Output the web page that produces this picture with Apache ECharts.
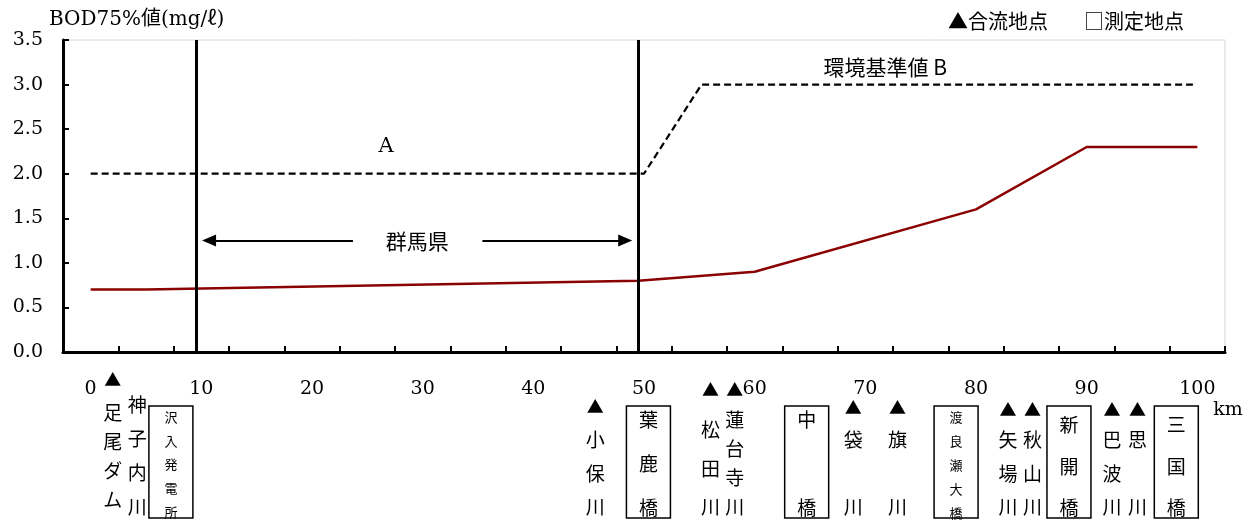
<!DOCTYPE html>
<html>
<head>
<meta charset="utf-8">
<script src="https://cdn.jsdelivr.net/npm/echarts@6/dist/echarts.min.js"></script>
<style>
html,body{margin:0;padding:0;background:#fff;}
#chart{width:1253px;height:520px;}
</style>
</head>
<body>
<div id="chart"></div>
<script>
// ---------------- data ----------------
const yTitle = 'BOD75%値(mg/ℓ)';
const legendConfluence = '▲合流地点';
const legendMeasure = '□測定地点';
const xUnit = 'km';

const xLabelValues = [0, 10, 20, 30, 40, 50, 60, 70, 80, 90, 100];
const xTickValues = [-2.5, 2.5, 7.5, 12.5, 17.5, 22.5, 27.5, 32.5, 37.5, 42.5, 47.5, 52.5, 57.5, 62.5, 67.5, 72.5, 77.5, 82.5, 87.5, 92.5, 97.5, 102.5];

// BOD 75% value along the river (km, mg/l)
const bodKm = [0, 5, 49.5, 60, 80, 90, 100];
const bodValue = [0.7, 0.7, 0.8, 0.9, 1.6, 2.3, 2.3];

// environmental standard (A up to ~50 km, B after)
const stdKm = [0, 50, 55.2, 99.6];
const stdValue = [2.0, 2.0, 3.0, 3.0];

// boundaries (vertical lines) and Gunma prefecture extent
const boundaryKm = [9.5, 49.5];
const gunmaArrowLeft = [23.7, 10.7];
const gunmaArrowRight = [35.4, 48.3];
const gunmaArrowValue = 1.25;

// annotation texts
const noteText = ['A', '環境基準値 B', '群馬県'];
const noteKm = [26.7, 71.8, 29.5];
const noteValue = [2.31, 3.2, 1.25];

// stations
const stationNames = ['足尾ダム', '神子内川', '沢入発電所', '小保川', '葉鹿橋', '松田川', '蓮台寺川', '中橋', '袋川', '旗川', '渡良瀬大橋', '矢場川', '秋山川', '新開橋', '巴波川', '思川', '三国橋'];
const stationKm = [2.0, 4.2, 7.25, 45.6, 50.4, 56.0, 58.2, 64.7, 68.9, 72.9, 78.2, 82.9, 85.1, 88.4, 92.3, 94.6, 98.1];
const stationType = ['confluence', 'tributary', 'measure', 'confluence', 'measure', 'confluence', 'confluence', 'measure', 'confluence', 'confluence', 'measure', 'confluence', 'confluence', 'measure', 'confluence', 'confluence', 'measure'];

// ---------------- layout (pixel offsets below the x axis) ----------------
const stationLayout = [
  {tri: 28, top: 61, bot: 148, fs: 19},
  {tri: null, top: 53, bot: 155, fs: 19},
  {tri: null, top: 65, bot: 160, fs: 13},
  {tri: 55, top: 88, bot: 155, fs: 19},
  {tri: null, top: 68, bot: 156, fs: 19},
  {tri: 38, top: 78, bot: 155, fs: 19},
  {tri: 38, top: 68, bot: 155, fs: 19},
  {tri: null, top: 68, bot: 156, fs: 19},
  {tri: 56, top: 88, bot: 155, fs: 19},
  {tri: 56, top: 88, bot: 155, fs: 19},
  {tri: null, top: 65, bot: 161, fs: 13},
  {tri: 58, top: 88, bot: 155, fs: 19},
  {tri: 58, top: 88, bot: 155, fs: 19},
  {tri: null, top: 73, bot: 156, fs: 19},
  {tri: 58, top: 88, bot: 155, fs: 19},
  {tri: 58, top: 88, bot: 155, fs: 19},
  {tri: null, top: 73, bot: 156, fs: 19}
];
const boxTop = 54, boxHeight = 112, boxWidth = 44;

const SERIF = "'DejaVu Serif', 'Noto Sans CJK JP', serif";
const CJK = "'Noto Sans CJK JP', 'DejaVu Sans', sans-serif";

const chart = echarts.init(document.getElementById('chart'));

function renderStation(params, api) {
  const i = params.dataIndex;
  const p = api.coord([api.value(0), 0]);
  const x = p[0], y0 = p[1];
  const L = stationLayout[i];
  const chars = Array.from(stationNames[i]);
  const children = [];
  if (stationType[i] === 'measure') {
    children.push({
      type: 'rect',
      shape: {x: x - boxWidth / 2, y: y0 + boxTop, width: boxWidth, height: boxHeight},
      style: {fill: '#fff', stroke: '#000', lineWidth: 1.5}
    });
  }
  if (L.tri !== null) {
    children.push({
      type: 'text',
      style: {text: '▲', x: x, y: y0 + L.tri, align: 'center', verticalAlign: 'middle',
        fontSize: 17, fontFamily: CJK, fill: '#000'}
    });
  }
  const n = chars.length;
  chars.forEach(function (c, k) {
    const yy = y0 + L.top + (n > 1 ? k * (L.bot - L.top) / (n - 1) : 0);
    children.push({
      type: 'text',
      style: {text: c, x: x, y: yy, align: 'center', verticalAlign: 'middle',
        fontSize: L.fs, fontFamily: CJK, fill: '#000'}
    });
  });
  return {type: 'group', children: children};
}

function renderNote(params, api) {
  const i = params.dataIndex;
  const p = api.coord([api.value(0), api.value(1)]);
  return {
    type: 'text',
    style: {text: noteText[i], x: p[0], y: p[1], align: 'center', verticalAlign: 'middle',
      fontSize: i === 0 ? 21 : 21, fontFamily: i === 0 ? SERIF : CJK, fill: '#000'}
  };
}

const option = {
  animation: false,
  backgroundColor: '#fff',
  title: [
    {text: yTitle, left: 44, top: 5, textStyle: {fontSize: 20, fontWeight: 'normal', fontFamily: SERIF, color: '#000'}},
    {text: legendConfluence, left: 943, top: 6, textStyle: {fontSize: 20, fontWeight: 'normal', fontFamily: CJK, color: '#000'}},
    {text: legendMeasure, left: 1079, top: 6, textStyle: {fontSize: 20, fontWeight: 'normal', fontFamily: CJK, color: '#000'}}
  ],
  grid: {left: 63, right: 28, top: 40, bottom: 168, show: true, borderColor: '#d4d4d4', borderWidth: 1, backgroundColor: 'transparent'},
  xAxis: {
    type: 'value', min: -2.5, max: 102.5,
    axisLine: {show: true, onZero: false, lineStyle: {color: '#000', width: 3}},
    axisTick: {show: true, inside: true, length: 6, lineStyle: {color: '#000', width: 2}, customValues: xTickValues},
    axisLabel: {show: true, customValues: xLabelValues, margin: 28, color: '#000', fontSize: 19, fontFamily: SERIF,
      formatter: function (v) { return String(v); }},
    splitLine: {show: false}
  },
  yAxis: {
    type: 'value', min: 0, max: 3.5, interval: 0.5,
    axisLine: {show: true, onZero: false, lineStyle: {color: '#000', width: 3}},
    axisTick: {show: true, inside: true, length: 6, lineStyle: {color: '#000', width: 2}},
    axisLabel: {margin: 20, color: '#000', fontSize: 19, fontFamily: SERIF,
      formatter: function (v) { return v.toFixed(1); }},
    splitLine: {show: false}
  },
  series: [
    {
      name: 'std', type: 'line', data: stdKm.map(function (k, i) { return [k, stdValue[i]]; }),
      showSymbol: false, symbol: 'none',
      lineStyle: {color: '#000', width: 2.2, type: [7, 4]},
      z: 3,
      markLine: {
        silent: true, symbol: 'none', label: {show: false},
        lineStyle: {color: '#000', width: 3, type: 'solid'},
        data: boundaryKm.map(function (k) { return {xAxis: k}; }),
        animation: false
      }
    },
    {
      name: 'bod', type: 'line', data: bodKm.map(function (k, i) { return [k, bodValue[i]]; }),
      showSymbol: false, symbol: 'none',
      lineStyle: {color: '#8b0000', width: 2.5},
      z: 4,
      markLine: {
        silent: true, symbol: ['none', 'triangle'], symbolSize: [12, 14], label: {show: false},
        lineStyle: {color: '#000', width: 2, type: 'solid'},
        data: [
          [{coord: [gunmaArrowLeft[0], gunmaArrowValue]}, {coord: [gunmaArrowLeft[1], gunmaArrowValue]}],
          [{coord: [gunmaArrowRight[0], gunmaArrowValue]}, {coord: [gunmaArrowRight[1], gunmaArrowValue]}]
        ],
        animation: false
      }
    },
    {
      name: 'notes', type: 'custom', clip: false, silent: true,
      data: noteKm.map(function (k, i) { return [k, noteValue[i]]; }),
      renderItem: renderNote, z: 5
    },
    {
      name: 'stations', type: 'custom', clip: false, silent: true,
      data: stationKm.map(function (k) { return [k, 0]; }),
      renderItem: renderStation, z: 5
    }
  ],
  graphic: []
};
chart.setOption(option);

// unit label placed just beyond the 100 km mark
const unitPos = chart.convertToPixel({xAxisIndex: 0, yAxisIndex: 0}, [102.5, 0]);
chart.setOption({
  graphic: [{
    type: 'text', silent: true,
    style: {text: xUnit, x: unitPos[0] + 3, y: unitPos[1] + 58, align: 'center', verticalAlign: 'middle',
      fontSize: 19, fontFamily: SERIF, fill: '#000'}
  }]
});
</script>
</body>
</html>
